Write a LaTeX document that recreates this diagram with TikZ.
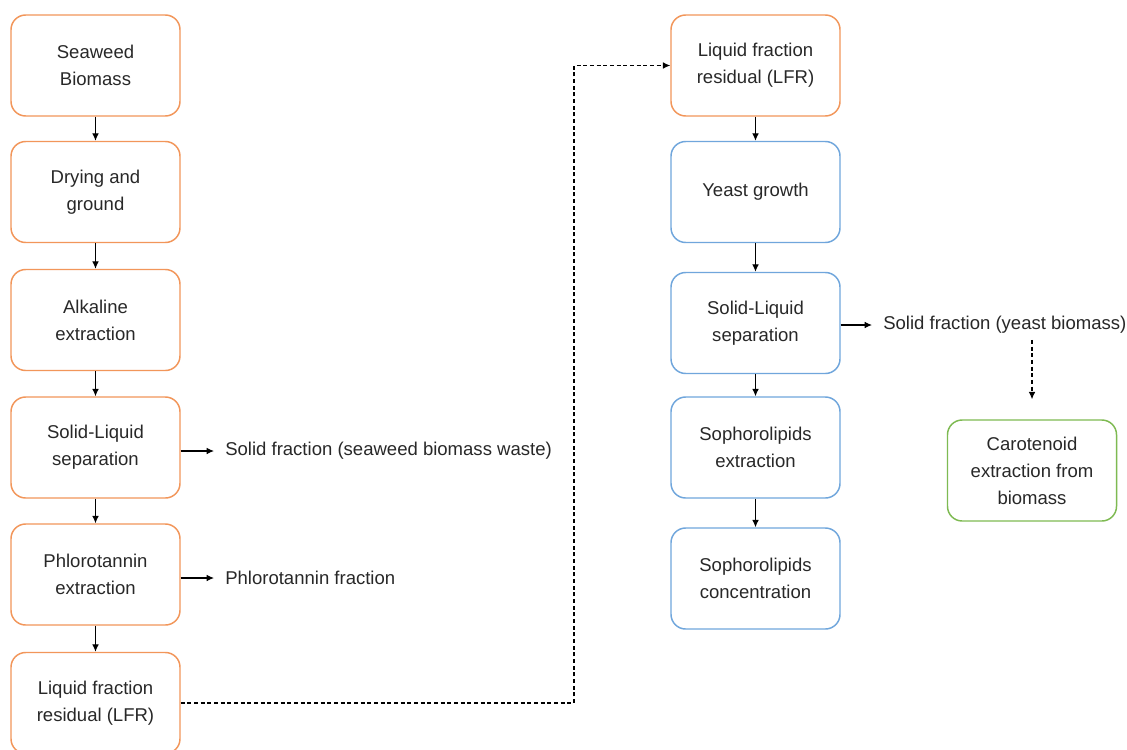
\documentclass[tikz,border=0pt]{standalone}
\usepackage{fontspec}
\setmainfont{Liberation Sans}
\usetikzlibrary{arrows.meta}
\definecolor{orng}{RGB}{242,150,90}
\definecolor{blu}{RGB}{112,166,220}
\definecolor{grn}{RGB}{126,186,82}
\definecolor{txt}{RGB}{40,40,40}
\tikzset{
  box/.style={draw, rectangle, rounded corners=11pt, line width=1.1pt, fill=white,
    minimum width=126.75pt, minimum height=75.75pt, align=center, text=txt,
    font=\fontsize{13.9}{20.25}\selectfont},
  obox/.style={box, draw=orng},
  bbox/.style={box, draw=blu},
  gbox/.style={box, draw=grn},
  lbl/.style={anchor=west, inner xsep=8.25pt, inner ysep=0pt, text=txt,
    font=\fontsize{13.9}{20.25}\selectfont},
  arr/.style={-{Latex[length=5.5pt,width=5pt]}, line width=0.8pt, black},
  darr/.style={arr, dashed, dash pattern=on 3pt off 2pt}
}
\begin{document}
\begin{tikzpicture}[x=0.75pt,y=-0.75pt]
\clip (0,0) rectangle (1127,749);
\fill[white] (0,0) rectangle (1127,749);
% left column
\node[obox] (L1) at (95.5,65.5) {Seaweed\\Biomass};
\node[obox] (L2) at (95.5,192) {Drying and\\ground};
\node[obox] (L3) at (95.5,320) {Alkaline\\extraction};
\node[obox] (L4) at (95.5,447.5) {Solid-Liquid\\separation};
\node[obox] (L5) at (95.5,574.5) {Phlorotannin\\extraction};
\node[obox] (L6) at (95.5,703) {Liquid fraction\\residual (LFR)};
% right column
\node[obox] (R1) at (755.5,65.5) {Liquid fraction\\residual (LFR)};
\node[bbox] (R2) at (755.5,192) {Yeast growth};
\node[bbox] (R3) at (755.5,323) {Solid-Liquid\\separation};
\node[bbox] (R4) at (755.5,447.5) {Sophorolipids\\extraction};
\node[bbox] (R5) at (755.5,578.5) {Sophorolipids\\concentration};
\node[gbox] (G) at (1032,470.5) {Carotenoid\\extraction from\\biomass};
% side labels
\node[lbl] (S1) at (214,451) {Solid fraction (seaweed biomass waste)};
\node[lbl] (S2) at (214,578) {Phlorotannin fraction};
\node[lbl] (S3) at (872,325) {Solid fraction (yeast biomass)};
\coordinate (c) at (574,0);
% arrows
\draw[arr] (L1) -- (L2);
\draw[arr] (L2) -- (L3);
\draw[arr] (L3) -- (L4);
\draw[arr] (L4) -- (L5);
\draw[arr] (L5) -- (L6);
\draw[arr] (L4.east |- S1.west) -- (S1.west);
\draw[arr] (L5.east |- S2.west) -- (S2.west);
\draw[arr] (R1) -- (R2);
\draw[arr] (R2) -- (R3);
\draw[arr] (R3) -- (R4);
\draw[arr] (R4) -- (R5);
\draw[arr] (R3.east |- S3.west) -- (S3.west);
\draw[darr, shorten >=15pt] (S3.south -| G.north) ++(0,6) -- (G.north);
\draw[darr] (L6.east) -- (L6.east -| c) -- (c |- R1.west) -- (R1.west);
\end{tikzpicture}
\end{document}
